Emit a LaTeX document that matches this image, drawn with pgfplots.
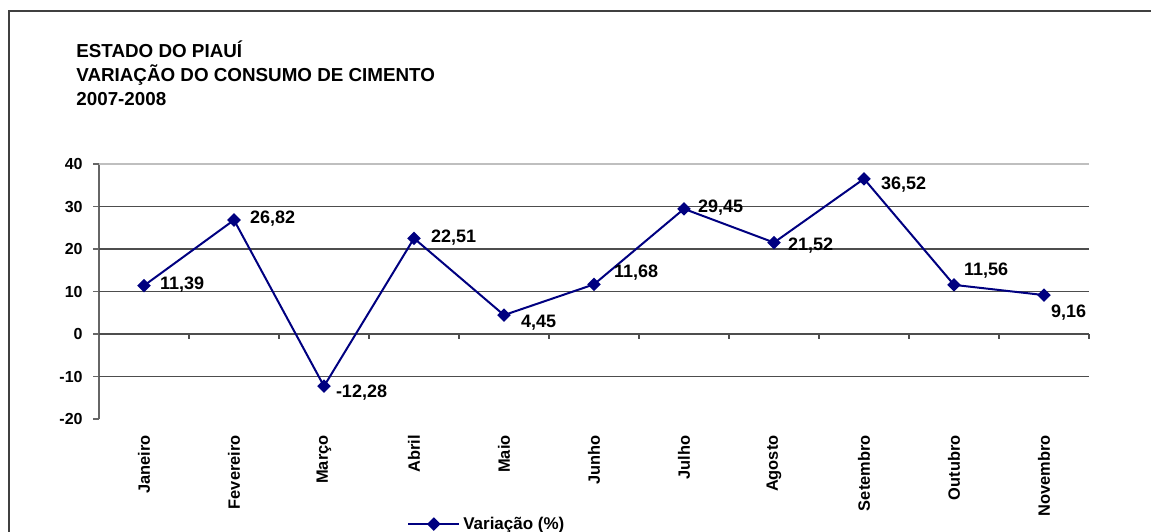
\documentclass[border=0pt]{standalone}
\usepackage{pgfplots}
\usepackage{pgfplotstable}
\pgfplotsset{compat=1.18}
\usepackage{fontspec}
\setmainfont{Liberation Sans}[UprightFont={* Bold}]
\definecolor{navy}{HTML}{000080}
\definecolor{gridc}{HTML}{4D4D4D}
\definecolor{axisc}{HTML}{666666}
\pgfplotstableread{
x y dx dy
0 11.39 15 1
1 26.82 15 1
2 -12.28 11 -6.5
3 22.51 16 1
4 4.45 16 -8
5 11.68 19 11.5
6 29.45 13 1
7 21.52 13 -3
8 36.52 16 -6
9 11.56 9 14
10 9.16 6 -17.5
}\datatable
\begin{document}
\fontsize{8}{9.6}\selectfont
\begin{tikzpicture}
\useasboundingbox (0,0) rectangle (575.5pt,-265.5pt);
\draw[line width=0.8pt, black!75] (4.5pt,-300pt) -- (4.5pt,-5.5pt) -- (600pt,-5.5pt);
\begin{scope}[font=\fontsize{9.4}{11}\selectfont]
\node[anchor=base west, inner sep=0pt] at (38pt,-28.5pt) {ESTADO DO PIAUÍ};
\node[anchor=base west, inner sep=0pt] at (38pt,-40.5pt) {VARIAÇÃO DO CONSUMO DE CIMENTO};
\node[anchor=base west, inner sep=0pt] at (38pt,-52.5pt) {2007-2008};
\end{scope}
\begin{axis}[
  scale only axis,
  width=495pt, height=127.5pt,
  at={(49.5pt,-209.5pt)}, anchor=south west,
  xmin=-0.5, xmax=10.5, ymin=-20, ymax=40,
  axis y line*=left,
  axis x line*=bottom,
  x axis line style={draw=none},
  y axis line style={axisc, line width=0.6pt},
  ytick={-20,-10,...,40},
  ytick style={axisc, line width=0.6pt},
  tick align=outside,
  major tick length=3pt,
  xtick={0,...,10},
  xtick style={draw=none},
  xticklabels={Janeiro,Fevereiro,Março,Abril,Maio,Junho,Julho,Agosto,Setembro,Outubro,Novembro},
  xticklabel style={rotate=90, anchor=east, inner sep=0pt, xshift=-5pt, font=\fontsize{8.2}{9.6}\selectfont},
  yticklabel style={inner sep=0pt, xshift=-5pt},
  /pgf/number format/assume math mode=true,
  clip=false,
  legend style={at={(axis description cs:0.311,-0.412)}, anchor=west, draw=none, fill=none, inner sep=0pt,
    font=\fontsize{8.5}{10}\selectfont, nodes={inner sep=1.5pt}},
  legend image code/.code={\draw[mark repeat=2,mark phase=2,#1] plot coordinates {(0pt,0pt) (12.75pt,0pt) (25.5pt,0pt)};},
]
\draw[black!25, line width=0.6pt] (axis cs:-0.5,40) -- (axis cs:10.5,40);
\pgfplotsinvokeforeach{-10,0,10,20,30}{\draw[gridc, line width=0.6pt] (axis cs:-0.5,#1) -- (axis cs:10.5,#1);}
\pgfplotsinvokeforeach{0.5,1.5,...,10.5}{\draw[gridc, line width=0.6pt] (axis cs:#1,0) -- ([yshift=-2.5pt]axis cs:#1,0);}
\addplot[navy, line width=1pt, mark=square*, mark size=1.9pt, mark options={rotate=45, solid},
  point meta=y,
  visualization depends on={\thisrow{dx} \as \dx},
  visualization depends on={\thisrow{dy} \as \dy},
  nodes near coords={\pgfmathprintnumber[fixed,fixed zerofill,precision=2,use comma,assume math mode=true]{\pgfplotspointmeta}},
  every node near coord/.append style={anchor=west, inner sep=0pt, black, font=\fontsize{9}{10.8}\selectfont, xshift={0.5*\dx pt}, yshift={0.5*\dy pt}},
] table[x=x, y=y] {\datatable};
\addlegendentry{Variação (\%)}
\end{axis}
\end{tikzpicture}
\end{document}
